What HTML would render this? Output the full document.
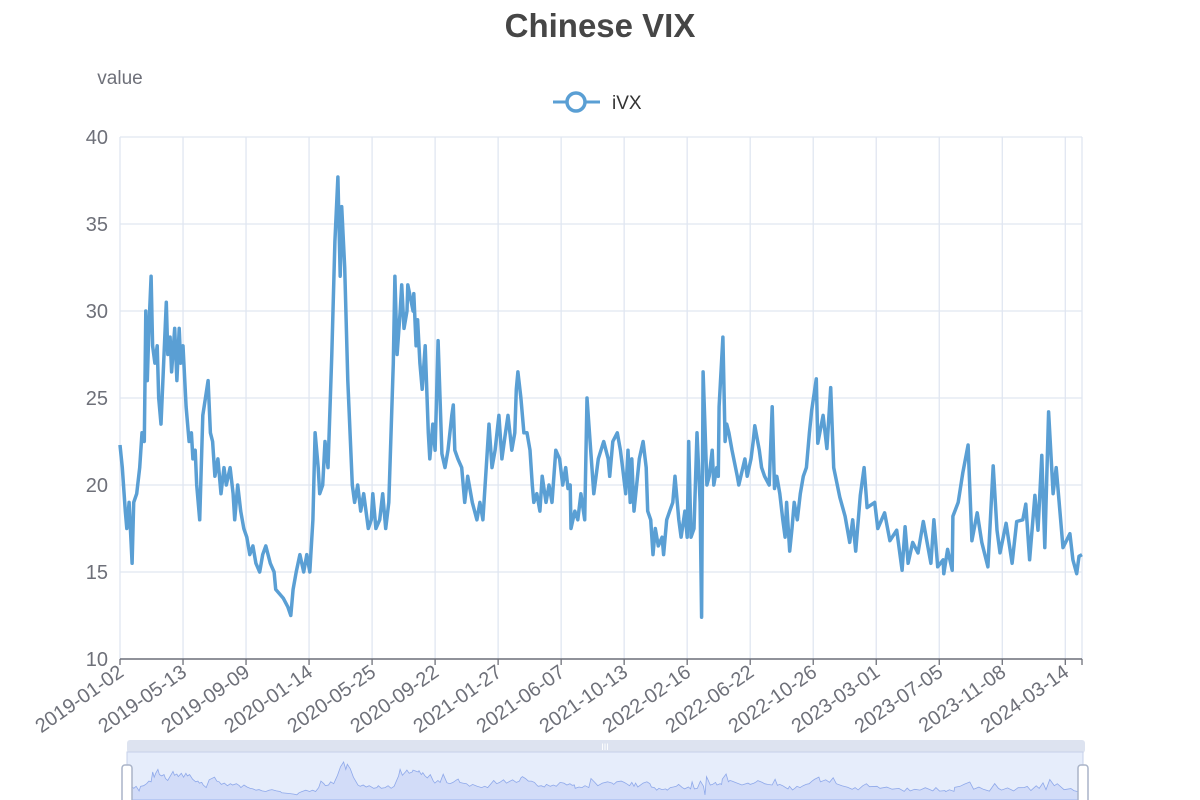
<!DOCTYPE html>
<html><head><meta charset="utf-8"><style>
html,body{margin:0;padding:0;background:#fff;}
svg{display:block;font-family:"Liberation Sans",sans-serif;}
</style></head><body>
<svg id="chart" width="1200" height="800" viewBox="0 0 1200 800" xmlns="http://www.w3.org/2000/svg">
<text x="600" y="37" text-anchor="middle" font-size="33" font-weight="bold" fill="#464646">Chinese VIX</text>
<text x="120" y="84" text-anchor="middle" font-size="19" fill="#6e7079">value</text>
<g>
<line x1="553" y1="102" x2="600" y2="102" stroke="#5a9fd4" stroke-width="3"/>
<circle cx="576" cy="102" r="9" fill="#fff" stroke="#5a9fd4" stroke-width="3.5"/>
<text x="612" y="109" font-size="19" fill="#333">iVX</text>
</g>
<g id="grid"></g>
<g id="axes"></g>
<path id="line" fill="none" stroke="#5a9fd4" stroke-width="3.5" stroke-linejoin="round"/>
<g id="zoom"></g>
</svg>
<script>
const days=[0,3,7,9,12,16,18,22,26,29,32,34,36,38,41,43,46,49,51,54,61,63,66,68,72,75,78,80,83,87,91,94,96,99,101,105,109,116,119,122,125,129,133,137,140,145,149,151,155,159,163,167,171,175,179,184,188,192,198,203,205,215,221,225,228,232,237,242,246,250,254,257,261,263,267,270,274,279,283,287,290,292,296,300,306,309,313,317,321,327,331,333,337,342,346,350,354,360,362,365,369,371,374,378,379,386,387,390,392,395,398,402,406,408,412,415,419,424,428,432,437,439,441,445,450,454,458,464,470,474,478,486,490,494,499,503,507,511,516,520,522,524,528,532,536,540,543,545,549,553,556,561,565,569,574,579,583,587,590,593,594,599,603,607,612,615,620,624,630,637,643,645,649,655,659,662,666,669,672,674,677,684,689,693,695,699,702,705,709,714,716,720,724,728,731,736,739,744,747,749,752,756,760,764,766,768,770,773,776,780,782,786,788,789,794,797,799,802,806,813,815,823,826,831,834,836,842,845,849,855,859,862,865,869,873,876,878,882,885,888,892,896,900,904,908,911,917,919,926,931,936,940,948,955,961,965,969,975,980,984,994,998,1007,1014,1023,1030,1034,1038,1044,1051,1058,1063,1068,1072,1077,1084,1085,1090,1096,1097,1104,1110,1117,1122,1129,1135,1143,1150,1155,1159,1167,1175,1181,1189,1193,1198,1205,1209,1214,1218,1223,1229,1233,1242,1251,1255,1260,1263,1267];
const values=[22.3,21,18.5,17.5,19,15.5,19,19.5,21,23,22.5,30,26,29,32,28,27,28,25,23.5,30.5,27.5,28.5,26.5,29,26,29,27,28,24.5,22.5,23,21.5,22,20,18,24,26,23,22.5,20.5,21.5,19.5,21,20,21,19.5,18,20,18.5,17.5,17,16,16.5,15.5,15,16,16.5,15.5,15,14,13.5,13,12.5,14,15,16,15,16,15,18,23,21,19.5,20,22.5,21,27.5,34,37.7,32,36,32.5,26,20,19,20,18.5,19.5,17.5,18,19.5,17.5,18,19.5,17.5,19,27,32,27.5,30,31.5,29,30,31.5,30,31,28,29.5,27,25.5,28,23,21.5,23.5,22,28.3,21.8,21,22,24,24.6,22,21.5,21,19,20.5,19,18,19,18,23.5,21,22,24,21.5,22.8,24,22,23,25.5,26.5,25,23,23,22,20,19,19.5,18.5,20.5,19,20,19,22,21.5,20,21,19.8,20,17.5,18.5,18,19.5,18,25,22,19.5,21.5,22.5,21.5,20.5,22.5,23,22,21,19.5,22,19,21.5,18.5,21.5,22.5,21,18.5,18,16,17.5,16.5,17,16,18,18.5,19,20.5,18,17,18.5,17,22.5,17,17.5,23,19,12.4,26.5,24,20,20.5,22,20,21,20.5,24.5,28.5,22.5,23.5,23,22,20.5,20,21.5,20.5,21.5,22.5,23.4,22,21,20.5,20,24.5,19.8,20.5,19.5,18,17,19,16.2,17.5,19,18,19.5,20.5,21,23,24.3,26.1,22.4,24,22.1,25.6,21,19.3,18.2,16.7,18,16.2,19.4,21,18.7,19,17.5,18.4,16.8,17.4,15.1,17.6,15.5,16.7,16.1,17.9,16.7,15.5,18,15.3,15.7,14.9,16.3,15.1,18.2,19,20.7,22.3,16.8,18.4,16.7,15.3,21.1,17.4,16.1,17.8,15.5,17.9,18,18.9,15.7,19.4,17.4,21.7,16.4,24.2,19.5,21,16.4,17.2,15.7,14.9,15.9,16];
const yTicks=[10,15,20,25,30,35,40];
const xLabels=["2019-01-02","2019-05-13","2019-09-09","2020-01-14","2020-05-25","2020-09-22","2021-01-27","2021-06-07","2021-10-13","2022-02-16","2022-06-22","2022-10-26","2023-03-01","2023-07-05","2023-11-08","2024-03-14"];
const labelInterval=83;
const totalDays=1268;

const NS="http://www.w3.org/2000/svg";
const L=120,R=1082,T=137,B=659;
const xs=d=>L+d/(totalDays-1)*(R-L);
const ys=v=>B-(v-10)/30*(B-T);
function mk(tag,attrs,parent){const e=document.createElementNS(NS,tag);for(const k in attrs)e.setAttribute(k,attrs[k]);parent.appendChild(e);return e;}
const grid=document.getElementById('grid'),axes=document.getElementById('axes');
yTicks.forEach(v=>{
  const g=mk('line',{x1:L,x2:R,y1:ys(v),y2:ys(v),stroke:'#e0e6f1','stroke-width':1.3},grid);
  
  
  const t=mk('text',{x:L-12,y:ys(v)+7,'text-anchor':'end','font-size':20,fill:'#6e7079'},axes);
  t.textContent=v;
  
  
});
xLabels.forEach((lab,i)=>{
  const x=xs(i*labelInterval);
  const g=mk('line',{x1:x,x2:x,y1:T,y2:B,stroke:'#e0e6f1','stroke-width':1.3},grid);
  
  
  const tk=mk('line',{x1:x,x2:x,y1:B,y2:B+6,stroke:'#6e7079','stroke-width':1.3},axes);
  
  
  const t=mk('text',{x:x+5,y:B+16,'text-anchor':'end','font-size':20,fill:'#6e7079',transform:`rotate(-35 ${x+5} ${B+16})`},axes);
  t.textContent=lab;
  
  
});
const rg=mk('line',{x1:R,x2:R,y1:T,y2:B,stroke:'#e0e6f1','stroke-width':1.3},grid);


const rt=mk('line',{x1:R,x2:R,y1:B,y2:B+6,stroke:'#6e7079','stroke-width':1.3},axes);


const ax=mk('line',{x1:L,x2:R,y1:B,y2:B,stroke:'#6e7079','stroke-width':1.5},axes);


document.getElementById('line').setAttribute('d',days.map((d,i)=>(i?'L':'M')+xs(d).toFixed(1)+' '+ys(values[i]).toFixed(1)).join(''));

// data zoom
const z=document.getElementById('zoom');
const ZL=127,ZR=1083,ZT=752,ZB=800;
const zx=d=>ZL+d/(totalDays-1)*(ZR-ZL);
const zy=v=>ZB-(v-10)/(37.7-10)*36-2;
const bar=mk('rect',{x:ZL,y:740,width:ZR-ZL+2,height:13,rx:3,fill:'#dde3f0'},z);


const hint=mk('text',{x:605,y:750,'text-anchor':'middle','font-size':9,fill:'#fff'},z);
hint.textContent='III';


const win=mk('rect',{x:ZL,y:ZT,width:ZR-ZL,height:ZB-ZT,fill:'#e6edfb',stroke:'#c6d0e8'},z);


const area=mk('path',{d:'M'+zx(0)+' '+ZB+days.map((d,i)=>'L'+zx(d).toFixed(1)+' '+zy(values[i]).toFixed(1)).join('')+'L'+zx(totalDays-1)+' '+ZB+'Z',fill:'#d2dcf8',stroke:'#8fa9ea','stroke-width':0.8},z);


[ZL,ZR].forEach(x=>{
  const h=mk('rect',{x:x-5,y:765,width:10,height:40,rx:3,fill:'#fff',stroke:'#aab4c8','stroke-width':1.5},z);
  
  
});
</script>
</body></html>
